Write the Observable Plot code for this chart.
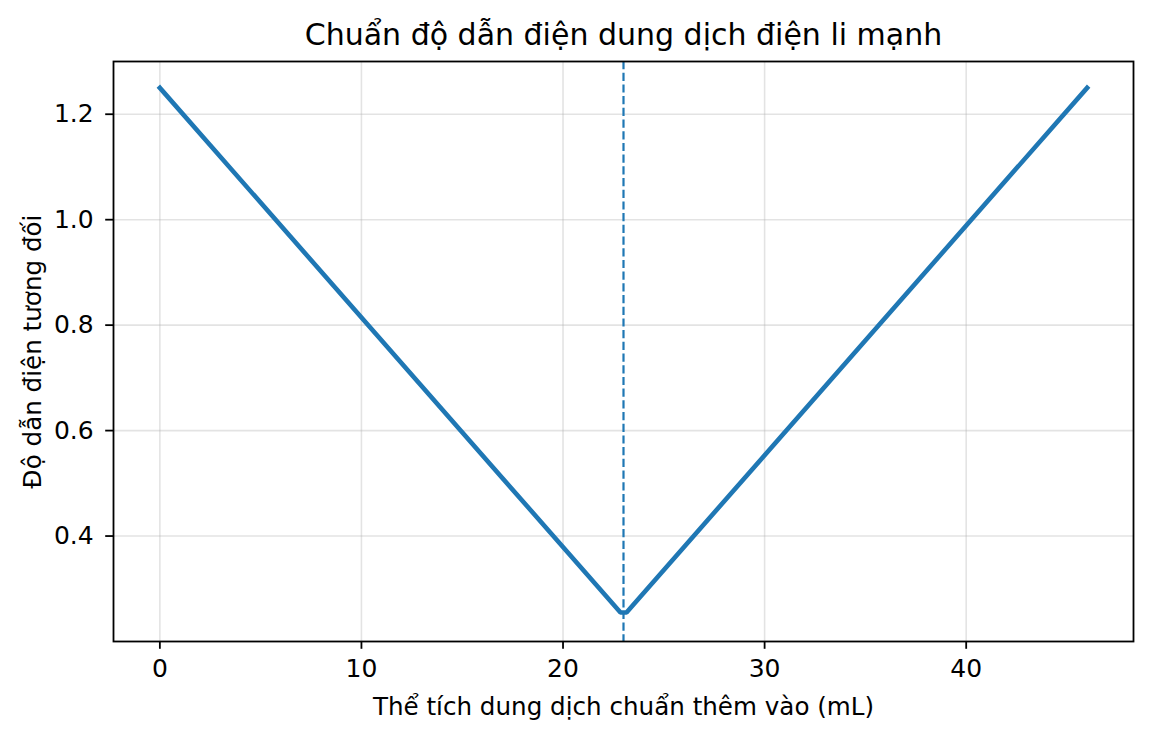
<!DOCTYPE html>
<html>
<head>
<meta charset="utf-8">
<script src="https://cdn.jsdelivr.net/npm/d3@7"></script>
<script src="https://cdn.jsdelivr.net/npm/@observablehq/plot@0.6"></script>
<style>
  html, body { margin: 0; padding: 0; background: #fff; }
  svg { font-family: "DejaVu Sans", sans-serif; }
</style>
</head>
<body>
<div id="chart"></div>
<script>
// Data
const volume = [0, 22.85, 23.15, 46];          // mL
const conductance = [1.25, 0.255, 0.255, 1.25]; // relative conductance
const equivalenceVolume = [23];
const xTicks = [0, 10, 20, 30, 40];
const yTicks = [0.4, 0.6, 0.8, 1.0, 1.2];

const titleText = "Chuẩn độ dẫn điện dung dịch điện li mạnh";
const xLabel = "Thể tích dung dịch chuẩn thêm vào (mL)";
const yLabel = "Độ dẫn điện tương đối";

const data = volume.map((v, i) => ({v, c: conductance[i]}));

const chart = Plot.plot({
  width: 1152,
  height: 738,
  marginLeft: 113,
  marginRight: 19,
  marginTop: 61,
  marginBottom: 97,
  style: {fontFamily: "DejaVu Sans, sans-serif", background: "#fff", color: "#000"},
  x: {domain: [-2.3, 48.3], ticks: xTicks, label: null},
  y: {domain: [0.2, 1.3], ticks: yTicks, label: null},
  marks: [
    Plot.gridX(xTicks, {stroke: "#b0b0b0", strokeOpacity: 0.35, strokeWidth: 1.6}),
    Plot.gridY(yTicks, {stroke: "#b0b0b0", strokeOpacity: 0.35, strokeWidth: 1.6}),
    Plot.line(data, {x: "v", y: "c", stroke: "#1f77b4", strokeWidth: 4.6, strokeLinejoin: "miter", strokeLinecap: "square"}),
    Plot.ruleX(equivalenceVolume, {stroke: "#1f77b4", strokeWidth: 2.2, strokeDasharray: "8.2,3.5"}),
    Plot.frame({stroke: "#000", strokeWidth: 1.8}),
    Plot.axisX(xTicks, {tickSize: 7.8, tickPadding: 10, fontSize: 25, strokeWidth: 1.8, label: null, tickFormat: d => String(d)}),
    Plot.axisY(yTicks, {tickSize: 7.8, tickPadding: 12, fontSize: 25, strokeWidth: 1.8, label: null, tickFormat: d3.format(".1f")}),
    Plot.text([titleText], {frameAnchor: "top", dy: -26, fontSize: 30, lineAnchor: "middle", textAnchor: "middle", fill: "#000"}),
    Plot.text([xLabel], {frameAnchor: "bottom", dy: 66, fontSize: 24.6, lineAnchor: "middle", textAnchor: "middle", fill: "#000"}),
    Plot.text([yLabel], {frameAnchor: "left", dx: -80, rotate: -90, fontSize: 24.6, lineAnchor: "middle", textAnchor: "middle", fill: "#000"})
  ]
});
document.getElementById("chart").appendChild(chart);
</script>
</body>
</html>
